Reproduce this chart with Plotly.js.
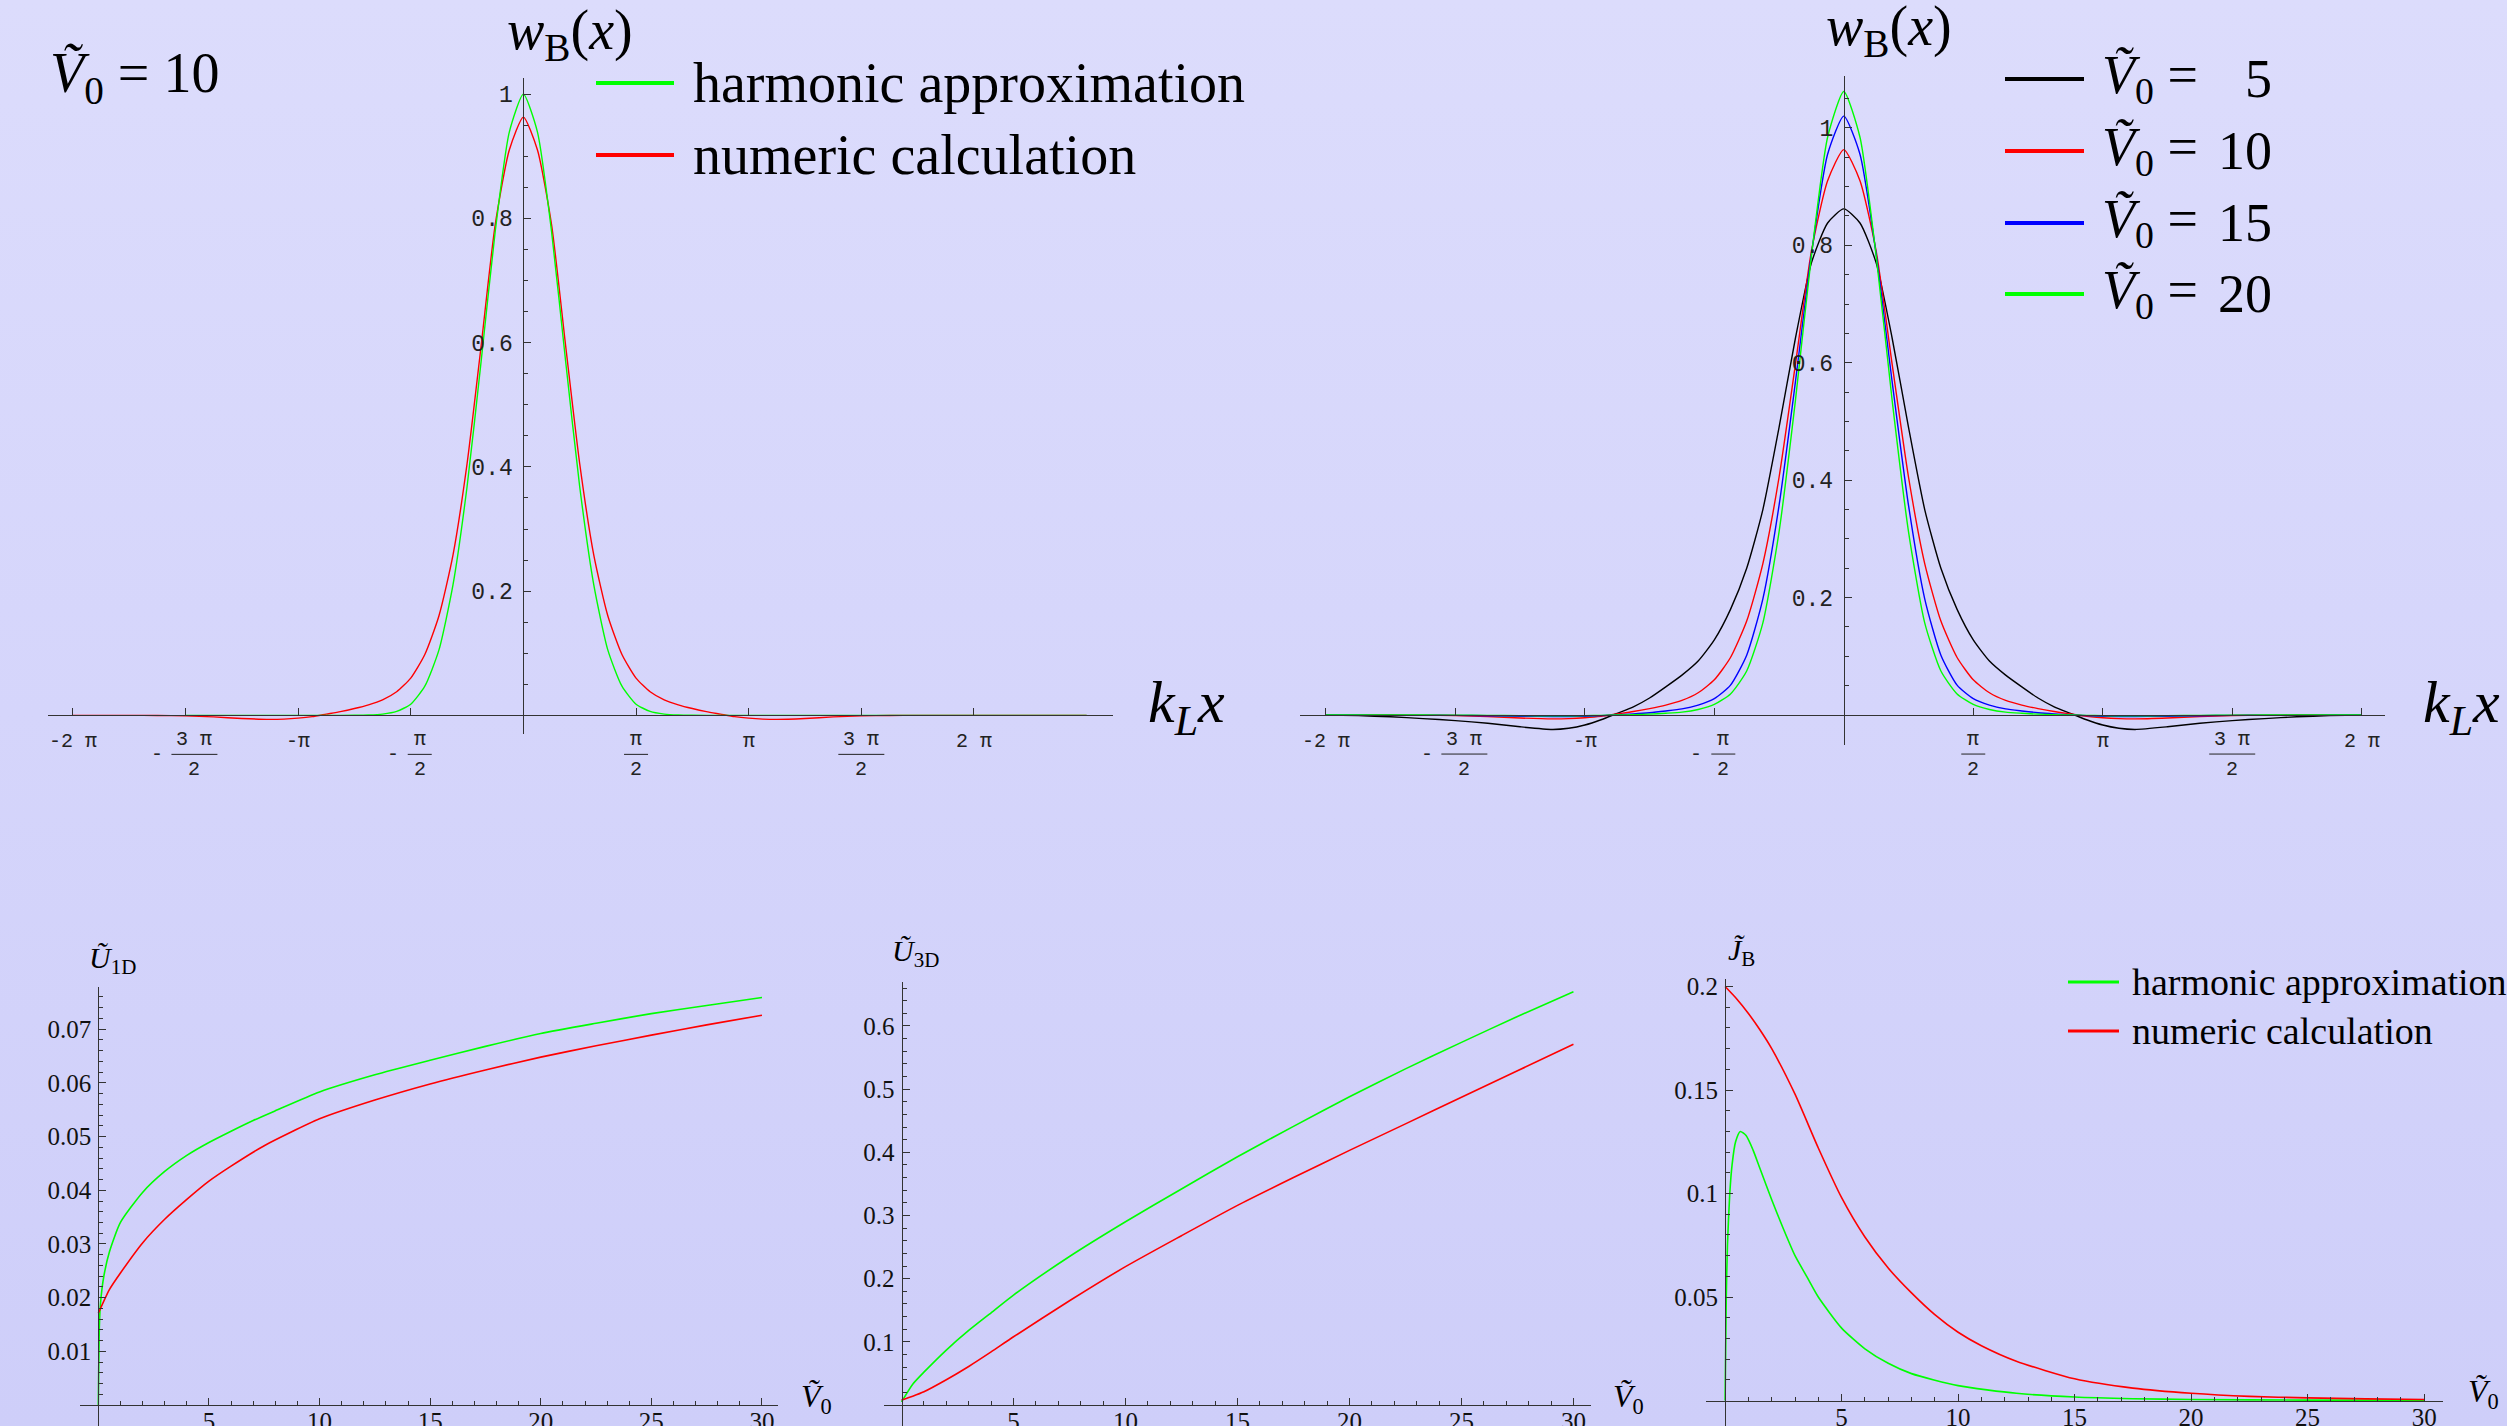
<!DOCTYPE html>
<html><head><meta charset="utf-8">
<script src="https://cdn.plot.ly/plotly-3.0.1.min.js"></script>
<style>
html,body{margin:0;padding:0;width:2507px;height:1426px;overflow:hidden;
background:linear-gradient(to bottom,#dcdcfc 0%,#d5d5fb 50%,#cecef9 100%);}
#chart{width:2507px;height:1426px;}
</style></head><body><div id="chart"></div>
<script>
// ================= DATA =================
// Top-left panel (V0 = 10). x values are k_L x in units of pi.
const tlNumX = [-2,-1.875,-1.75,-1.625,-1.5,-1.375,-1.25,-1.125,-1.0625,-1,-0.9375,-0.875,-0.8125,-0.75,-0.6875,-0.625,-0.5625,-0.5,-0.4375,-0.375,-0.3125,-0.25,-0.1875,-0.125,-0.0625,0,0.0625,0.125,0.1875,0.25,0.3125,0.375,0.4375,0.5,0.5625,0.625,0.6875,0.75,0.8125,0.875,0.9375,1,1.0625,1.125,1.25,1.375,1.5,1.625,1.75,1.875,2,2.25,2.5];
const tlNumY = [0,0,0,-0.0002,-0.0008,-0.0025,-0.005,-0.0065,-0.006,-0.0045,-0.002,0.002,0.006,0.011,0.017,0.025,0.038,0.06,0.098,0.16,0.258,0.405,0.595,0.79,0.91,0.963,0.91,0.79,0.595,0.405,0.258,0.16,0.098,0.06,0.038,0.025,0.017,0.011,0.006,0.002,-0.002,-0.0045,-0.006,-0.0065,-0.005,-0.0025,-0.0008,-0.0002,0,0,0,0,0];
const tlHarmX = [-1.5,-1.375,-1.25,-1.125,-1,-0.875,-0.75,-0.6875,-0.625,-0.5625,-0.5,-0.4375,-0.375,-0.3125,-0.25,-0.1875,-0.125,-0.0625,0,0.0625,0.125,0.1875,0.25,0.3125,0.375,0.4375,0.5,0.5625,0.625,0.6875,0.75,0.875,1,1.25,1.5,1.75,2,2.25,2.5];
const tlHarmY = [0,0,0,0,0,0,0.0001,0.0005,0.002,0.0063,0.018,0.047,0.105,0.21,0.368,0.57,0.779,0.939,1.0,0.939,0.779,0.57,0.368,0.21,0.105,0.047,0.018,0.0063,0.002,0.0005,0.0001,0,0,0,0,0,0,0,0];

// Top-right panel: numeric Wannier functions for several V0
const trX = [-2,-1.875,-1.75,-1.625,-1.5,-1.375,-1.25,-1.125,-1.0625,-1,-0.9375,-0.875,-0.8125,-0.75,-0.6875,-0.625,-0.5625,-0.5,-0.4375,-0.375,-0.3125,-0.25,-0.1875,-0.125,-0.0625,0,0.0625,0.125,0.1875,0.25,0.3125,0.375,0.4375,0.5,0.5625,0.625,0.6875,0.75,0.8125,0.875,0.9375,1,1.0625,1.125,1.25,1.375,1.5,1.625,1.75,1.875,2];
const trY5  = [0,-0.001,-0.003,-0.006,-0.0095,-0.014,-0.02,-0.0245,-0.0225,-0.017,-0.008,0.003,0.014,0.029,0.048,0.068,0.092,0.128,0.18,0.25,0.35,0.49,0.64,0.77,0.838,0.862,0.838,0.77,0.64,0.49,0.35,0.25,0.18,0.128,0.092,0.068,0.048,0.029,0.014,0.003,-0.008,-0.017,-0.0225,-0.0245,-0.02,-0.014,-0.0095,-0.006,-0.003,-0.001,0];
const trY10 = [0,0,0,-0.0002,-0.0008,-0.0025,-0.005,-0.0065,-0.006,-0.0045,-0.002,0.002,0.006,0.011,0.017,0.025,0.038,0.06,0.098,0.16,0.258,0.405,0.595,0.79,0.91,0.963,0.91,0.79,0.595,0.405,0.258,0.16,0.098,0.06,0.038,0.025,0.017,0.011,0.006,0.002,-0.002,-0.0045,-0.006,-0.0065,-0.005,-0.0025,-0.0008,-0.0002,0,0,0];
const trY15 = [0,0,-0.0001,-0.0003,-0.0006,-0.0012,-0.002,-0.0025,-0.0024,-0.002,-0.001,0.0005,0.002,0.004,0.007,0.0105,0.017,0.028,0.051,0.102,0.198,0.357,0.565,0.785,0.955,1.02,0.955,0.785,0.565,0.357,0.198,0.102,0.051,0.028,0.017,0.0105,0.007,0.004,0.002,0.0005,-0.001,-0.002,-0.0024,-0.0025,-0.002,-0.0012,-0.0006,-0.0003,-0.0001,0,0];
const trY20 = [0,0,0,0,-0.0002,-0.0005,-0.001,-0.0012,-0.0012,-0.001,-0.0005,0,0.0007,0.0015,0.003,0.005,0.0095,0.018,0.036,0.075,0.157,0.312,0.533,0.782,0.984,1.062,0.984,0.782,0.533,0.312,0.157,0.075,0.036,0.018,0.0095,0.005,0.003,0.0015,0.0007,0,-0.0005,-0.001,-0.0012,-0.0012,-0.001,-0.0005,-0.0002,0,0,0,0];
const trNames = ['5','10','15','20'];
const trColors = ['#000000','#ff0000','#0000ff','#00ff00'];

// Bottom-left: U_1D vs V0
const u1HarmX = [0,0.05,0.1,0.25,0.5,1,2,3,4,5,6,7,8,10,12.5,15,17.5,20,22.5,25,27.5,30];
const u1HarmY = [0,0.015,0.019,0.024,0.0285,0.034,0.0396,0.0435,0.0465,0.0489,0.051,0.053,0.0548,0.0583,0.0615,0.0642,0.0668,0.0692,0.0711,0.0729,0.0744,0.0759];
const u1NumX = [0,0.5,1,2,3,4,5,6,7.5,10,12.5,15,17.5,20,22.5,25,27.5,30];
const u1NumY = [0.0171,0.0215,0.0246,0.0302,0.0346,0.0383,0.0417,0.0445,0.0483,0.0533,0.0568,0.0598,0.0624,0.0648,0.0669,0.0689,0.0708,0.0726];

// Bottom-middle: U_3D vs V0
const u3X = [0,0.5,1,2,3,4,5,7.5,10,12.5,15,17.5,20,22.5,25,27.5,30];
const u3HarmY = [0.005,0.033,0.052,0.087,0.118,0.146,0.174,0.235,0.29,0.342,0.393,0.441,0.488,0.532,0.574,0.615,0.654];
const u3NumY  = [0.008,0.014,0.021,0.04,0.061,0.084,0.108,0.165,0.219,0.268,0.316,0.36,0.403,0.445,0.487,0.529,0.571];

// Bottom-right: J_B vs V0
const jHarmX = [0,0.05,0.1,0.2,0.3,0.45,0.65,0.9,1.2,1.5,2,2.5,3,3.5,4,5,6,7,8,10,12.5,15,17.5,20,25,30];
const jHarmY = [0,0.05,0.075,0.1,0.114,0.125,0.13,0.128,0.121,0.112,0.097,0.083,0.07,0.06,0.05,0.035,0.025,0.018,0.013,0.0072,0.0035,0.0017,0.0009,0.0005,0.0002,0.0001];
const jNumX = [0,0.5,1,1.5,2,3,4,5,6,7,8,9,10,11,12.5,15,17.5,20,22.5,25,27.5,30];
const jNumY = [0.2,0.194,0.187,0.179,0.17,0.148,0.122,0.098,0.079,0.064,0.052,0.0415,0.033,0.0265,0.019,0.0105,0.006,0.0035,0.002,0.0013,0.0008,0.0005];

const seriesNames = ['harmonic approximation','numeric calculation'];

// tick labels for the k_L x axes (values in units of pi)
const piTickVals = [-2,-1.5,-1,-0.5,0.5,1,1.5,2];
const piTickNum  = ['-2 π','3 π','-π','π','π','π','3 π','2 π'];
const piTickDen  = ['','2','','2','2','','2',''];
const piTickSign = ['','-','','-','','','',''];

const wTickVals = [0.2,0.4,0.6,0.8,1];
const wTickText = ['0.2','0.4','0.6','0.8','1'];
const vTickVals = [5,10,15,20,25,30];
const vTickText = ['5','10','15','20','25','30'];
const u1TickVals = [0.01,0.02,0.03,0.04,0.05,0.06,0.07];
const u1TickText = ['0.01','0.02','0.03','0.04','0.05','0.06','0.07'];
const u3TickVals = [0.1,0.2,0.3,0.4,0.5,0.6];
const u3TickText = ['0.1','0.2','0.3','0.4','0.5','0.6'];
const jTickVals = [0.05,0.1,0.15,0.2];
const jTickText = ['0.05','0.1','0.15','0.2'];

// ================= LAYOUT =================
const W = 2507, H = 1426;
const GREEN = '#00ff00', RED = '#ff0000';
const SERIF = '"Liberation Serif","DejaVu Serif",serif';
const MONO = '"Liberation Mono","DejaVu Sans Mono",monospace';
const AX = '#333333';

// panel geometry in pixels: x domain [left,right], y domain [bottom,top]
const P = {
  tl:{xd:[48,1113],  xr:[-2.11,2.617], yd:[734,78],    yr:[-0.03,1.026]},
  tr:{xd:[1300,2385],xr:[-2.1,2.09],   yd:[745,75.6],  yr:[-0.051,1.089]},
  bl:{xd:[80.4,777.9],xr:[-0.81,30.72],yd:[1426,987.3],yr:[-0.0039,0.0778]},
  bm:{xd:[883.6,1590.7],xr:[-0.8,30.77],yd:[1426,981.7],yr:[-0.0332,0.67]},
  br:{xd:[1706,2443],xr:[-0.82,30.81], yd:[1426,978.5],yr:[-0.0123,0.2039]}
};
function yDom(s){return [1-s.yd[0]/H, 1-s.yd[1]/H];}
function xDom(s){return [s.xd[0]/W, s.xd[1]/W];}
function zeroY(s){const d=yDom(s);return d[0]+(0-s.yr[0])/(s.yr[1]-s.yr[0])*(d[1]-d[0]);}
function zeroX(s){const d=xDom(s);return d[0]+(0-s.xr[0])/(s.xr[1]-s.xr[0])*(d[1]-d[0]);}
function seq(a,b,step,excl){const o=[];for(let i=0;a+i*step<=b+1e-9;i++){const v=Math.round((a+i*step)*1e6)/1e6;if(!excl.some(e=>Math.abs(e-v)<1e-9))o.push(v);}return o;}

function xAxis(s, extra){
  return Object.assign({domain:xDom(s), range:s.xr, anchor:'free', position:zeroY(s),
    showline:true, linecolor:AX, linewidth:1, showgrid:false, zeroline:false,
    ticks:'inside', ticklen:7, tickwidth:1, tickcolor:AX, fixedrange:true}, extra);
}
function yAxis(s, extra){
  return Object.assign({domain:yDom(s), range:s.yr, anchor:'free', position:zeroX(s),
    showline:true, linecolor:AX, linewidth:1, showgrid:false, zeroline:false,
    ticks:'inside', ticklen:7, tickwidth:1, tickcolor:AX, fixedrange:true}, extra);
}
const monoTick = {family:MONO, size:23, color:'#222'};
const serifTick = {family:SERIF, size:25, color:'#111'};

const layout = {
  width:W, height:H, margin:{l:0,r:0,t:0,b:0},
  paper_bgcolor:'rgba(0,0,0,0)', plot_bgcolor:'rgba(0,0,0,0)', showlegend:false,
  xaxis: xAxis(P.tl,{tickmode:'array', tickvals:piTickVals, showticklabels:false}),
  yaxis: yAxis(P.tl,{tickmode:'array', tickvals:wTickVals, ticktext:wTickText, tickfont:monoTick, ticklabelstandoff:6,
          minor:{tickmode:'array', tickvals:seq(0.05,1.0,0.05,wTickVals), ticks:'inside', ticklen:4, tickcolor:AX}}),
  xaxis2: xAxis(P.tr,{tickmode:'array', tickvals:piTickVals, showticklabels:false}),
  yaxis2: yAxis(P.tr,{tickmode:'array', tickvals:wTickVals, ticktext:wTickText, tickfont:monoTick, ticklabelstandoff:6,
          minor:{tickmode:'array', tickvals:seq(0.05,1.05,0.05,wTickVals), ticks:'inside', ticklen:4, tickcolor:AX}}),
  xaxis3: xAxis(P.bl,{tickmode:'array', tickvals:vTickVals, ticktext:vTickText, tickfont:serifTick, ticklabelstandoff:-6,
          minor:{tickmode:'array', tickvals:seq(1,30,1,vTickVals), ticks:'inside', ticklen:4, tickcolor:AX}}),
  yaxis3: yAxis(P.bl,{tickmode:'array', tickvals:u1TickVals, ticktext:u1TickText, tickfont:serifTick, ticklabelstandoff:2,
          minor:{tickmode:'array', tickvals:seq(0.002,0.076,0.002,u1TickVals), ticks:'inside', ticklen:4, tickcolor:AX}}),
  xaxis4: xAxis(P.bm,{tickmode:'array', tickvals:vTickVals, ticktext:vTickText, tickfont:serifTick, ticklabelstandoff:-6,
          minor:{tickmode:'array', tickvals:seq(1,30,1,vTickVals), ticks:'inside', ticklen:4, tickcolor:AX}}),
  yaxis4: yAxis(P.bm,{tickmode:'array', tickvals:u3TickVals, ticktext:u3TickText, tickfont:serifTick, ticklabelstandoff:2,
          minor:{tickmode:'array', tickvals:seq(0.02,0.66,0.02,u3TickVals), ticks:'inside', ticklen:4, tickcolor:AX}}),
  xaxis5: xAxis(P.br,{tickmode:'array', tickvals:vTickVals, ticktext:vTickText, tickfont:serifTick, ticklabelstandoff:-6,
          minor:{tickmode:'array', tickvals:seq(1,30,1,vTickVals), ticks:'inside', ticklen:4, tickcolor:AX}}),
  yaxis5: yAxis(P.br,{tickmode:'array', tickvals:jTickVals, ticktext:jTickText, tickfont:serifTick, ticklabelstandoff:2,
          minor:{tickmode:'array', tickvals:seq(0.01,0.2,0.01,jTickVals), ticks:'inside', ticklen:4, tickcolor:AX}}),
  annotations:[], shapes:[]
};

// ----- text helpers -----
function ann(x,y,text,size,extra){
  return Object.assign({xref:'paper',yref:'paper',x:x/W,y:1-y/H,text:text,showarrow:false,
    font:{family:SERIF,size:size,color:'#000'},xanchor:'center',yanchor:'middle'},extra||{});
}
function legLine(x0,x1,y,color,w){
  return {type:'line',xref:'paper',yref:'paper',x0:x0/W,x1:x1/W,y0:1-y/H,y1:1-y/H,line:{color:color,width:w}};
}
const V0 = '<i>V\u0303</i><sub>0</sub>';
const A = layout.annotations, S = layout.shapes;

// pi tick labels on the top panels
function piTicks(xref, yref, s){
  const tf = {family:MONO,size:20,color:'#222'};
  const y0 = zeroY(s);
  piTickVals.forEach((v,i)=>{
    const num = piTickNum[i], den = piTickDen[i], sg = piTickSign[i];
    const base = {xref:xref,yref:yref,x:v,y:0,showarrow:false,font:tf,xanchor:'center',yanchor:'middle'};
    if(!den){ A.push(Object.assign({},base,{text:num,yshift:-26})); return; }
    const sh = sg ? 9 : 0;
    const half = num.length>1 ? 23 : 12;
    A.push(Object.assign({},base,{text:num,xshift:sh,yshift:-24}));
    A.push(Object.assign({},base,{text:den,xshift:sh,yshift:-54}));
    if(sg) A.push(Object.assign({},base,{text:'-',xshift:(num.length>1?-28:-18),yshift:-39}));
    S.push({type:'line',xref:xref,yref:'paper',xsizemode:'pixel',xanchor:v,x0:sh-half,x1:sh+half,
            y0:y0-39/H,y1:y0-39/H,line:{color:'#222',width:1}});
  });
}
piTicks('x','y',P.tl);
piTicks('x2','y2',P.tr);

// top-left texts
A.push(ann(48,77,V0+' = 10',56,{xanchor:'left'}));
A.push(ann(570,34,'<i>w</i><sub>B</sub>(<i>x</i>)',56));
A.push(ann(1146,707,'<i>k</i><sub><i>L</i></sub><i>x</i>',60,{xanchor:'left'}));
S.push(legLine(596,674,83,GREEN,4)); S.push(legLine(596,674,155,RED,4));
A.push(ann(691,83,seriesNames[0],56,{xanchor:'left'}));
A.push(ann(691,155,seriesNames[1],56,{xanchor:'left'}));
// top-right texts
A.push(ann(1889,30,'<i>w</i><sub>B</sub>(<i>x</i>)',56));
A.push(ann(2421,707,'<i>k</i><sub><i>L</i></sub><i>x</i>',60,{xanchor:'left'}));
const trLegY = [79,151,223,294];
trNames.forEach((n,i)=>{
  S.push(legLine(2005,2084,trLegY[i],trColors[i],4));
  A.push(ann(2100,trLegY[i],V0+' =',54,{xanchor:'left'}));
  A.push(ann(2274,trLegY[i],n,54,{xanchor:'right'}));
});
// bottom texts
A.push(ann(112,960,'<i>U\u0303</i><sub>1D</sub>',30));
A.push(ann(816,1398,V0,32));
A.push(ann(915,953,'<i>U\u0303</i><sub>3D</sub>',30));
A.push(ann(1628,1398,V0,32));
A.push(ann(1741,952,'<i>J\u0303</i><sub>B</sub>',30));
A.push(ann(2483,1393,V0,32));
S.push(legLine(2068,2119,982,GREEN,3)); S.push(legLine(2068,2119,1031,RED,3));
A.push(ann(2130,982,seriesNames[0],38,{xanchor:'left'}));
A.push(ann(2130,1031,seriesNames[1],38,{xanchor:'left'}));

// ================= TRACES =================
function tr(x,y,color,xa,ya,w,name){
  return {x:x,y:y,type:'scatter',mode:'lines',name:name,xaxis:xa,yaxis:ya,
    line:{color:color,width:w,shape:'spline',smoothing:0.6},hoverinfo:'skip',cliponaxis:true};
}
const data = [
  tr(tlNumX,tlNumY,RED,'x','y',1.4,seriesNames[1]),
  tr(tlHarmX,tlHarmY,GREEN,'x','y',1.4,seriesNames[0]),
  tr(trX,trY5,trColors[0],'x2','y2',1.4,'V0=5'),
  tr(trX,trY10,trColors[1],'x2','y2',1.4,'V0=10'),
  tr(trX,trY15,trColors[2],'x2','y2',1.4,'V0=15'),
  tr(trX,trY20,trColors[3],'x2','y2',1.4,'V0=20'),
  tr(u1HarmX,u1HarmY,GREEN,'x3','y3',1.6,seriesNames[0]),
  tr(u1NumX,u1NumY,RED,'x3','y3',1.6,seriesNames[1]),
  tr(u3X,u3HarmY,GREEN,'x4','y4',1.6,seriesNames[0]),
  tr(u3X,u3NumY,RED,'x4','y4',1.6,seriesNames[1]),
  tr(jHarmX,jHarmY,GREEN,'x5','y5',1.6,seriesNames[0]),
  tr(jNumX,jNumY,RED,'x5','y5',1.6,seriesNames[1])
];
Plotly.newPlot('chart', data, layout, {displayModeBar:false, staticPlot:true});
</script></body></html>
